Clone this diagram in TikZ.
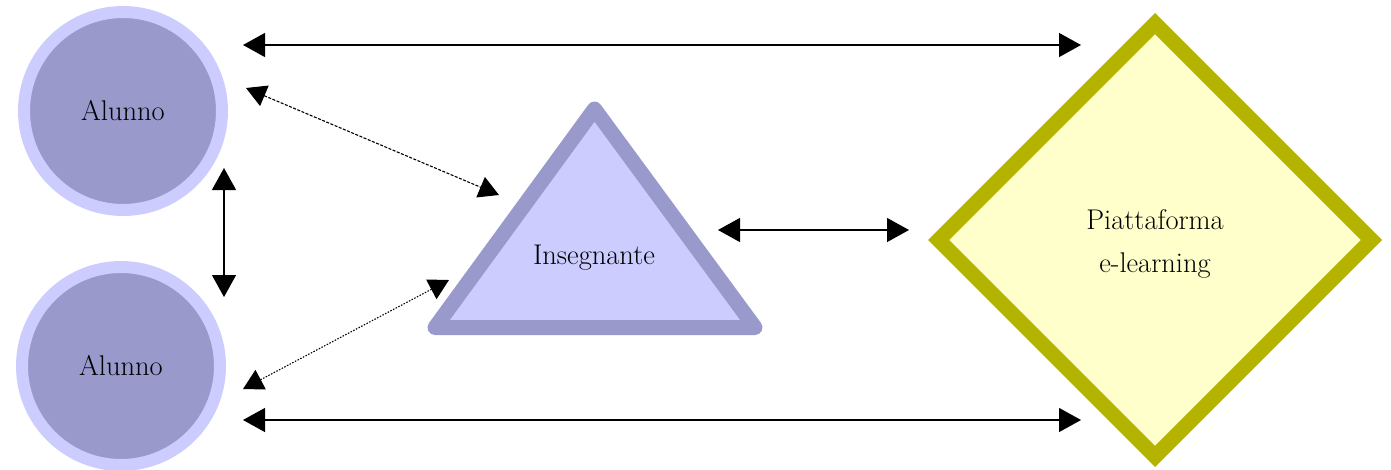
\documentclass[tikz,border=0pt]{standalone}
\usetikzlibrary{shapes.geometric,arrows.meta}
\definecolor{ringlight}{HTML}{CCCCFF}
\definecolor{circdark}{HTML}{9999CC}
\definecolor{diamfill}{HTML}{FFFFCC}
\definecolor{diamline}{HTML}{B3B300}
\begin{document}
\begin{tikzpicture}[x=1pt,y=-1pt,
  lbl/.style={font=\fontsize{28.5}{43}\selectfont, align=center, inner sep=0pt},
  alunno/.style={circle, draw=ringlight, line width=12pt, fill=circdark, minimum size=198pt, inner sep=0pt, font=\fontsize{28.5}{43}\selectfont},
  arr/.style={{Triangle[length=22pt,width=24pt]}-{Triangle[length=22pt,width=24pt]}, line width=1.3pt},
  darr/.style={{Triangle[length=20pt,width=22pt]}-{Triangle[length=20pt,width=22pt]}, line width=1.1pt},
]
\useasboundingbox (0,0) rectangle (1391,469);
% shapes
\node[alunno] (a1) at (123,111) {Alunno};
\node[alunno] (a2) at (121,366) {Alunno};
\filldraw[fill=ringlight, draw=circdark, line width=15pt, line join=round]
  (594.5,109) -- (755,327.5) -- (435,327.5) -- cycle;
\node[lbl] (ins) at (594,258) {Insegnante};
\node[diamond, draw=diamline, fill=diamfill, line width=15pt, inner sep=0pt,
  minimum width=439pt, minimum height=439pt] (pf) at (1155,240) {};
\node[lbl] (pft) at (1155,244) {Piattaforma\\e-learning};
% connector end points
\coordinate (t1) at (243,45);
\coordinate (t2) at (1081,45);
\coordinate (b1) at (243,420);
\coordinate (b2) at (1081,420);
\coordinate (v1) at (224,168);
\coordinate (v2) at (224,297);
\coordinate (d1a) at (246,88);
\coordinate (d1b) at (499,195);
\coordinate (d2a) at (243,389);
\coordinate (d2b) at (449,280);
\coordinate (h1) at (718,230);
\coordinate (h2) at (909,230);
% connectors
\draw[arr] (t1) -- (t2);
\draw[arr] (b1) -- (b2);
\draw[arr] (v1) -- (v2);
\draw[arr] (h1) -- (h2);
\draw[darr, dash pattern=on 3pt off 1.5pt] (d1a) -- (d1b);
\draw[darr, dash pattern=on 1.5pt off 1.5pt] (d2a) -- (d2b);
\end{tikzpicture}
\end{document}
